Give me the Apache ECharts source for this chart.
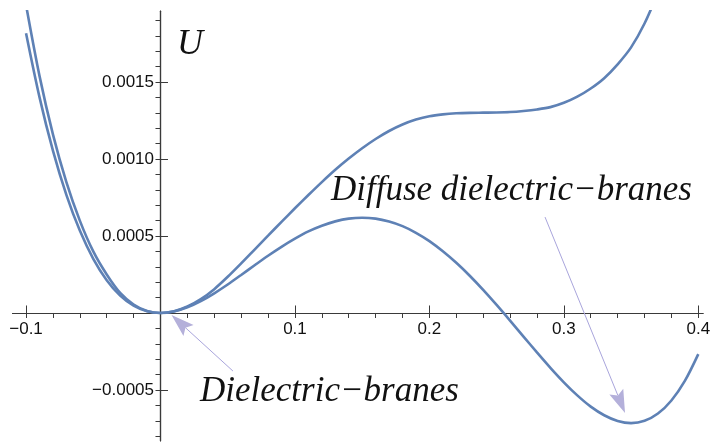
<!DOCTYPE html>
<html><head><meta charset="utf-8">
<script src="https://cdn.jsdelivr.net/npm/echarts@6/dist/echarts.min.js"></script>
<style>html,body{margin:0;padding:0;background:#fff}#c{width:712px;height:442px}</style>
</head><body><div id="c"></div>
<script>
// Curve with the plateau (upper curve on the right)
const xA = [-0.10,-0.09,-0.08,-0.07,-0.06,-0.05,-0.04,-0.03,-0.02,-0.01,0.00,0.01,0.02,0.03,0.04,0.05,0.06,0.07,0.08,0.09,0.10,0.11,0.12,0.13,0.14,0.15,0.16,0.17,0.18,0.19,0.20,0.21,0.22,0.23,0.24,0.25,0.26,0.27,0.28,0.29,0.30,0.31,0.32,0.33,0.34,0.35,0.36,0.37];
const uA = [0.00200,0.00154,0.00116,0.00085,0.00060,0.00040,0.00025,0.00013,0.000055,0.000013,0,0.000011,0.000042,0.000090,0.000155,0.000235,0.000322,0.000412,0.000502,0.000592,0.000680,0.000766,0.000850,0.000930,0.001003,0.001070,0.001130,0.001182,0.001224,0.001256,0.001278,0.001290,0.001297,0.001300,0.001301,0.001302,0.001305,0.001312,0.001322,0.001337,0.001365,0.001405,0.001458,0.001525,0.001615,0.001725,0.001880,0.002080];
// Curve with the second minimum
const xB = [-0.10,-0.09,-0.08,-0.07,-0.06,-0.05,-0.04,-0.03,-0.02,-0.01,0.00,0.01,0.02,0.03,0.04,0.05,0.06,0.07,0.08,0.09,0.10,0.11,0.12,0.13,0.14,0.15,0.16,0.17,0.18,0.19,0.20,0.21,0.22,0.23,0.24,0.25,0.26,0.27,0.28,0.29,0.30,0.31,0.32,0.33,0.34,0.35,0.36,0.37,0.38,0.39,0.40];
const uB = [0.001817,0.001402,0.001054,0.000767,0.000535,0.000352,0.000213,0.000113,0.0000475,0.0000112,0,0.0000098,0.0000369,0.0000773,0.000128,0.000185,0.000247,0.000310,0.000372,0.000430,0.000483,0.000530,0.000567,0.000595,0.000613,0.000619,0.000613,0.000594,0.000564,0.000521,0.000467,0.000401,0.000326,0.000242,0.000150,0.0000521,-0.0000495,-0.000153,-0.000256,-0.000356,-0.000450,-0.000535,-0.000608,-0.000664,-0.000701,-0.000715,-0.000700,-0.000653,-0.000568,-0.000441,-0.000267];

const xTickLabels = [-0.1, 0.1, 0.2, 0.3, 0.4];
const yTickLabels = [-0.0005, 0.0005, 0.0010, 0.0015];
const xMinorTicks = [-0.1,-0.08,-0.06,-0.04,-0.02,0,0.02,0.04,0.06,0.08,0.1,0.12,0.14,0.16,0.18,0.2,0.22,0.24,0.26,0.28,0.3,0.32,0.34,0.36,0.38,0.4];
const yMinorTicks = [-0.0008,-0.0007,-0.0006,-0.0005,-0.0004,-0.0003,-0.0002,-0.0001,0,0.0001,0.0002,0.0003,0.0004,0.0005,0.0006,0.0007,0.0008,0.0009,0.0010,0.0011,0.0012,0.0013,0.0014,0.0015,0.0016,0.0017,0.0018,0.0019];
const yAxisTitle = 'U';
const annotationTexts = ['Dielectric\u2212branes', 'Diffuse dielectric\u2212branes'];
const arrowFrom = [[0.0539, -0.000377], [0.286, 0.000623]];
const arrowTo = [[0.0082, -0.000013], [0.3455, -0.000649]];

const X_MIN = -0.11, X_MAX = 0.4035, Y_MIN = -0.00083, Y_MAX = 0.00196;
const AXIS_COLOR = '#3a3a3a';
const CURVE_COLOR = '#5E81B5';
const fmtMinus = s => s.replace('-', '\u2212');
const sans = 'Liberation Sans, Arial, sans-serif';
const serif = 'Liberation Serif, Times New Roman, serif';

const chart = echarts.init(document.getElementById('c'), null, {renderer: 'canvas'});
const pairs = (xs, ys) => xs.map((x, i) => [x, ys[i]]);

function axis(min, max, ticks, len) {
  return {
    type: 'value', min: min, max: max,
    splitLine: {show: false},
    axisLabel: {show: false},
    axisLine: {show: true, onZero: true, onZeroAxisIndex: 0, lineStyle: {color: AXIS_COLOR, width: 1.2}},
    axisTick: {show: true, inside: true, length: len, customValues: ticks, lineStyle: {color: AXIS_COLOR, width: 1}}
  };
}

const option = {
  animation: false,
  backgroundColor: '#ffffff',
  grid: {left: 12.6, right: 9, top: 11.2, bottom: 1.2, containLabel: false, outerBoundsMode: 'none'},
  xAxis: [axis(X_MIN, X_MAX, xTickLabels, 7.5), axis(X_MIN, X_MAX, xMinorTicks, 5)],
  yAxis: [axis(Y_MIN, Y_MAX, yTickLabels, 7.5), axis(Y_MIN, Y_MAX, yMinorTicks, 5)],
  series: [
    {type: 'line', data: pairs(xA, uA), showSymbol: false, smooth: 0.3, clip: true, silent: true,
      lineStyle: {color: CURVE_COLOR, width: 2.6}, itemStyle: {color: CURVE_COLOR}},
    {type: 'line', data: pairs(xB, uB), showSymbol: false, smooth: 0.3, clip: true, silent: true,
      lineStyle: {color: CURVE_COLOR, width: 2.6}, itemStyle: {color: CURVE_COLOR}}
  ]
};
chart.setOption(option);

const graphics = [];
const origin = chart.convertToPixel({gridIndex: 0}, [0, 0]);
// tick labels (real text, positioned through the axes' scales)
xTickLabels.forEach(v => {
  const p = chart.convertToPixel({gridIndex: 0}, [v, 0]);
  graphics.push({type: 'text', silent: true, z: 40, x: p[0], y: origin[1] + 16.5,
    style: {text: fmtMinus(v.toFixed(1)), font: '17px ' + sans, fill: '#111', align: 'center', verticalAlign: 'middle'}});
});
yTickLabels.forEach(v => {
  const p = chart.convertToPixel({gridIndex: 0}, [0, v]);
  graphics.push({type: 'text', silent: true, z: 40, x: origin[0] - 6.5, y: p[1],
    style: {text: fmtMinus(v.toFixed(4)), font: '17px ' + sans, fill: '#111', align: 'right', verticalAlign: 'middle'}});
});
// arrows
for (let i = 0; i < arrowFrom.length; i++) {
  const p1 = chart.convertToPixel({gridIndex: 0}, arrowFrom[i]);
  const p2 = chart.convertToPixel({gridIndex: 0}, arrowTo[i]);
  const dx = p2[0] - p1[0], dy = p2[1] - p1[1];
  const len = Math.hypot(dx, dy);
  const ux = dx / len, uy = dy / len;
  const nx = -uy, ny = ux;
  const L = 23, W = 7.5;
  const bx = p2[0] - ux * L, by = p2[1] - uy * L;
  const notchX = p2[0] - ux * L * 0.82, notchY = p2[1] - uy * L * 0.82;
  graphics.push({type: 'line', silent: true, z: 50,
    shape: {x1: p1[0], y1: p1[1], x2: notchX, y2: notchY},
    style: {stroke: '#a9a5dc', lineWidth: 1}});
  graphics.push({type: 'polygon', silent: true, z: 51,
    shape: {points: [[p2[0], p2[1]], [bx + nx * W, by + ny * W], [notchX, notchY], [bx - nx * W, by - ny * W]]},
    style: {fill: '#b4b0da', stroke: null}});
}
graphics.push({type: 'text', silent: true, z: 60, x: 177, y: 45,
  style: {text: yAxisTitle, font: 'italic 36px ' + serif, fill: '#111', verticalAlign: 'middle'}});
graphics.push({type: 'text', silent: true, z: 60, x: 200, y: 392,
  style: {text: annotationTexts[0], font: 'italic 35px ' + serif, fill: '#111', verticalAlign: 'middle', align: 'left'}});
graphics.push({type: 'text', silent: true, z: 60, x: 331, y: 191,
  style: {text: annotationTexts[1], font: 'italic 35px ' + serif, fill: '#111', verticalAlign: 'middle', align: 'left'}});
chart.setOption({graphic: {elements: graphics}});
</script>
</body></html>
